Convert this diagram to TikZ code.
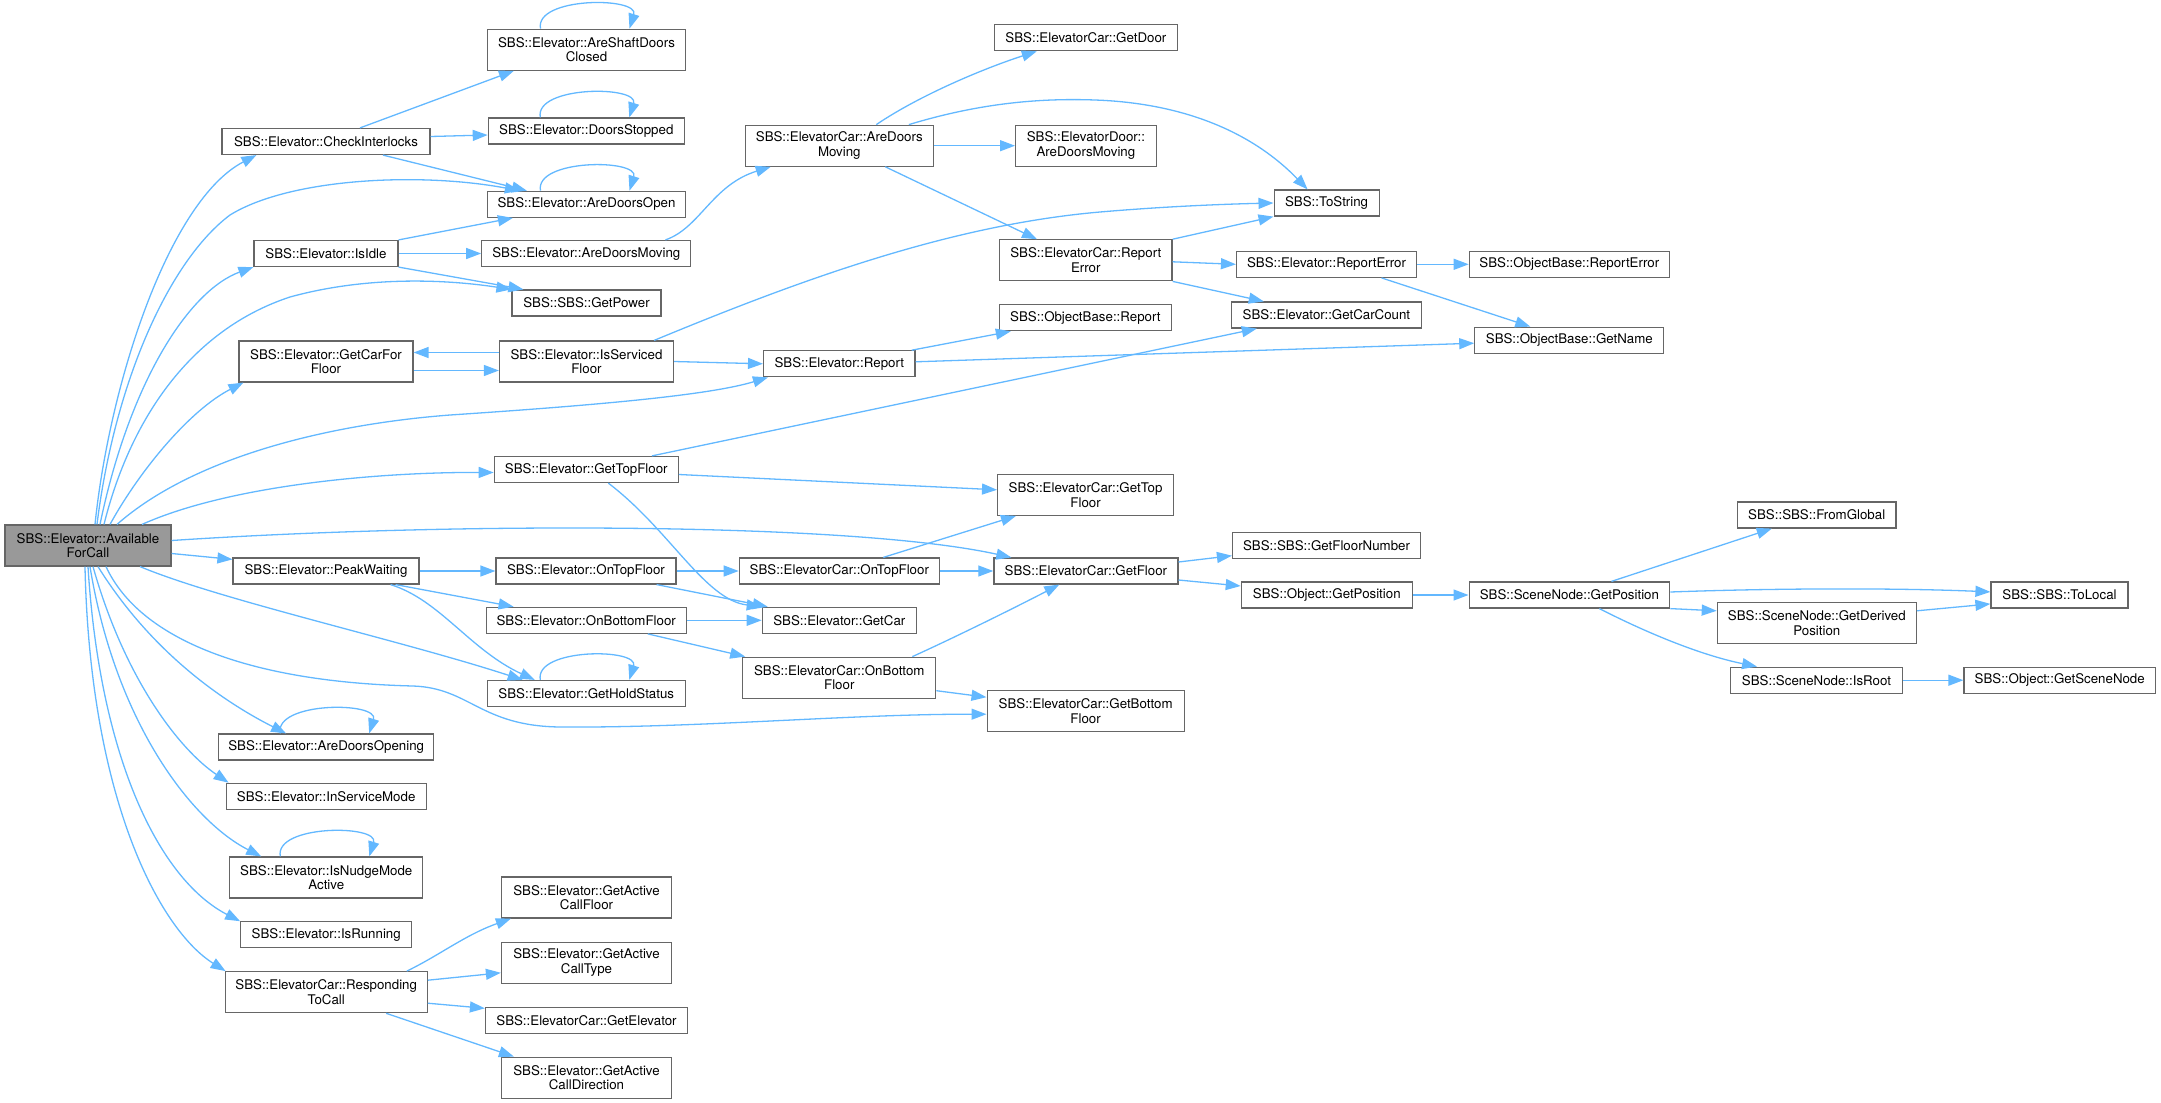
\documentclass[tikz,border=0pt]{standalone}
\usepackage{fontspec}
\setmainfont{TeX Gyre Heros}
\usetikzlibrary{arrows.meta,calc}
\definecolor{edgec}{HTML}{63B8FF}
\definecolor{boxc}{HTML}{666666}
\definecolor{mainfill}{HTML}{999999}
\begin{document}
\begin{tikzpicture}[x=1pt,y=-1pt,
  box/.style={draw=boxc, line width=1.2pt, fill=white, inner sep=0pt, align=center,
    font=\fontsize{13.3}{14.7}\selectfont},
  edg/.style={draw=edgec, line width=1.3pt, -{Triangle[length=15pt,width=11pt]}}]
\useasboundingbox (0,0) rectangle (2161,1103);
% ---- nodes
\node[box, fill=mainfill, minimum width=166pt, minimum height=41pt] (A) at (88,545.5) {SBS::Elevator::Available\\ForCall};
\node[box, minimum width=208pt, minimum height=26pt] (CI) at (326,141.5) {SBS::Elevator::CheckInterlocks};
\node[box, minimum width=198pt, minimum height=41pt] (ASDC) at (586.5,49.7) {SBS::Elevator::AreShaftDoors\\Closed};
\node[box, minimum width=196pt, minimum height=26pt] (DS) at (586.3,131) {SBS::Elevator::DoorsStopped};
\node[box, minimum width=198pt, minimum height=26pt] (ADO) at (586.5,204.3) {SBS::Elevator::AreDoorsOpen};
\node[box, minimum width=144pt, minimum height=26pt] (II) at (326,253.5) {SBS::Elevator::IsIdle};
\node[box, minimum width=209pt, minimum height=26pt] (ADM) at (586.3,253.5) {SBS::Elevator::AreDoorsMoving};
\node[box, minimum width=149pt, minimum height=26pt] (GP) at (586.5,303) {SBS::SBS::GetPower};
\node[box, minimum width=174pt, minimum height=41pt] (GCFF) at (326,361.5) {SBS::Elevator::GetCarFor\\Floor};
\node[box, minimum width=174pt, minimum height=41pt] (ISF) at (586.5,361.5) {SBS::Elevator::IsServiced\\Floor};
\node[box, minimum width=184pt, minimum height=26pt] (GTF) at (586.3,469.5) {SBS::Elevator::GetTopFloor};
\node[box, minimum width=186pt, minimum height=26pt] (PW) at (326,571) {SBS::Elevator::PeakWaiting};
\node[box, minimum width=180pt, minimum height=26pt] (OTF) at (586,571) {SBS::Elevator::OnTopFloor};
\node[box, minimum width=200pt, minimum height=26pt] (OBF) at (586.2,620.3) {SBS::Elevator::OnBottomFloor};
\node[box, minimum width=198pt, minimum height=26pt] (GHS) at (586.3,693.5) {SBS::Elevator::GetHoldStatus};
\node[box, minimum width=215pt, minimum height=26pt] (ADOp) at (326.2,747) {SBS::Elevator::AreDoorsOpening};
\node[box, minimum width=200pt, minimum height=26pt] (ISM) at (326.2,796.3) {SBS::Elevator::InServiceMode};
\node[box, minimum width=193pt, minimum height=41pt] (INMA) at (326.3,877.5) {SBS::Elevator::IsNudgeMode\\Active};
\node[box, minimum width=171pt, minimum height=26pt] (IRn) at (326.2,934.8) {SBS::Elevator::IsRunning};
\node[box, minimum width=202pt, minimum height=41pt] (RTC) at (326.2,992.2) {SBS::ElevatorCar::Responding\\ToCall};
\node[box, minimum width=170pt, minimum height=41pt] (GACF) at (586.5,897.5) {SBS::Elevator::GetActive\\CallFloor};
\node[box, minimum width=170pt, minimum height=41pt] (GACT) at (586.5,962.8) {SBS::Elevator::GetActive\\CallType};
\node[box, minimum width=202pt, minimum height=26pt] (GE) at (586.5,1020.3) {SBS::ElevatorCar::GetElevator};
\node[box, minimum width=170pt, minimum height=41pt] (GACD) at (586.5,1077.7) {SBS::Elevator::GetActive\\CallDirection};
\node[box, minimum width=188pt, minimum height=41pt] (ECADM) at (839.3,145.7) {SBS::ElevatorCar::AreDoors\\Moving};
\node[box, minimum width=151.5pt, minimum height=26pt] (ER) at (839.3,363.8) {SBS::Elevator::Report};
\node[box, minimum width=200pt, minimum height=26pt] (ECOTF) at (839.3,571) {SBS::ElevatorCar::OnTopFloor};
\node[box, minimum width=154pt, minimum height=26pt] (EGC) at (839.3,620.3) {SBS::Elevator::GetCar};
\node[box, minimum width=193pt, minimum height=41pt] (ECOBF) at (839.3,677.7) {SBS::ElevatorCar::OnBottom\\Floor};
\node[box, minimum width=183pt, minimum height=26pt] (GD) at (1085.9,37.7) {SBS::ElevatorCar::GetDoor};
\node[box, minimum width=140.5pt, minimum height=41pt] (EDADM) at (1085.9,145.7) {SBS::ElevatorDoor::\\AreDoorsMoving};
\node[box, minimum width=172.5pt, minimum height=41pt] (ECRE) at (1085.8,260.3) {SBS::ElevatorCar::Report\\Error};
\node[box, minimum width=172pt, minimum height=26pt] (OBR) at (1085.4,317.7) {SBS::ObjectBase::Report};
\node[box, minimum width=176pt, minimum height=41pt] (ECGTF) at (1085.6,494.8) {SBS::ElevatorCar::GetTop\\Floor};
\node[box, minimum width=184pt, minimum height=26pt] (ECGF) at (1085.9,571) {SBS::ElevatorCar::GetFloor};
\node[box, minimum width=197pt, minimum height=41pt] (ECGBF) at (1085.6,711.2) {SBS::ElevatorCar::GetBottom\\Floor};
\node[box, minimum width=105pt, minimum height=26pt] (TS) at (1326.6,203) {SBS::ToString};
\node[box, minimum width=180pt, minimum height=26pt] (EREr) at (1326.5,264.3) {SBS::Elevator::ReportError};
\node[box, minimum width=190pt, minimum height=26pt] (GCC) at (1326.4,315) {SBS::Elevator::GetCarCount};
\node[box, minimum width=188pt, minimum height=26pt] (GFN) at (1326.5,545.7) {SBS::SBS::GetFloorNumber};
\node[box, minimum width=171pt, minimum height=26pt] (OGP) at (1326.8,595) {SBS::Object::GetPosition};
\node[box, minimum width=200pt, minimum height=26pt] (OBRE) at (1569.3,264.3) {SBS::ObjectBase::ReportError};
\node[box, minimum width=189pt, minimum height=26pt] (GN) at (1569.3,340.2) {SBS::ObjectBase::GetName};
\node[box, minimum width=200.6pt, minimum height=26pt] (SNGP) at (1569.4,595) {SBS::SceneNode::GetPosition};
\node[box, minimum width=158.6pt, minimum height=26pt] (FG) at (1816.7,515) {SBS::SBS::FromGlobal};
\node[box, minimum width=199pt, minimum height=41pt] (GDP) at (1816.8,622.8) {SBS::SceneNode::GetDerived\\Position};
\node[box, minimum width=171.7pt, minimum height=26pt] (IRt) at (1816.5,680.2) {SBS::SceneNode::IsRoot};
\node[box, minimum width=137pt, minimum height=26pt] (TL) at (2059.5,594.9) {SBS::SBS::ToLocal};
\node[box, minimum width=191.4pt, minimum height=26pt] (GSN) at (2059.7,680.2) {SBS::Object::GetSceneNode};
% ---- edges from AvailableForCall
\draw[edg] ($(A.north)+(7,0)$) .. controls (110,380) and (170,200) .. ($(CI.south west)+(35,0)$);
\draw[edg] ($(A.north)+(9,0)$) .. controls (115,380) and (170,260) .. (230,215) .. controls (290,178) and (420,172) .. ($(ADO.north west)+(33,0)$);
\draw[edg] ($(A.north)+(12,0)$) .. controls (130,380) and (190,290) .. (II.south west);
\draw[edg] ($(A.north)+(16,0)$) .. controls (130,420) and (190,330) .. (290,297) .. controls (370,275) and (450,280) .. (GP.north west);
\draw[edg] ($(A.north)+(22,0)$) .. controls (140,470) and (190,410) .. ($(GCFF.south west)+(5,0)$);
\draw[edg] ($(A.north)+(29,0)$) .. controls (190,460) and (320,425) .. (450,415) .. controls (600,405) and (710,395) .. ($(ER.south west)+(5,0)$);
\draw[edg] ($(A.north)+(54,0)$) .. controls (230,485) and (380,472) .. ($(GTF.west)+(0,3)$);
\draw[edg] ($(A.east)+(0,-5)$) .. controls (450,522) and (850,522) .. ($(ECGF.north west)+(18,0)$);
\draw[edg] ($(A.east)+(0,8)$) -- ($(PW.north west)+(0,2)$);
\draw[edg] ($(A.south)+(52,0)$) .. controls (220,600) and (400,640) .. ($(GHS.north west)+(36,0)$);
\draw[edg] ($(A.south)+(18,0)$) .. controls (140,640) and (250,682) .. (413,686) .. controls (470,688) and (480,726) .. (560,727) .. controls (700,728) and (850,714) .. ($(ECGBF.west)+(0,3)$);
\draw[edg] ($(A.south)+(10,0)$) .. controls (150,650) and (220,700) .. ($(ADOp.north west)+(68,0)$);
\draw[edg] ($(A.south)+(5,0)$) .. controls (125,680) and (180,750) .. ($(ISM.north west)+(3,0)$);
\draw[edg] ($(A.south)+(2,0)$) .. controls (115,720) and (190,820) .. ($(INMA.north west)+(32,0)$);
\draw[edg] (A.south) .. controls (100,760) and (160,880) .. (IRn.north west);
\draw[edg] ($(A.south)+(-3,0)$) .. controls (90,800) and (160,930) .. ($(RTC.north west)+(1,0)$);
% ---- second column
\draw[edg] ($(CI.north)+(34,0)$) -- ($(ASDC.south west)+(27,0)$);
\draw[edg] ($(CI.east)+(0,-5)$) -- ($(DS.west)+(0,4)$);
\draw[edg] ($(CI.south)+(57,0)$) -- ($(ADO.north west)+(40,0)$);
\draw[edg] (II.north east) -- ($(ADO.south west)+(26,0)$);
\draw[edg] (II.east) -- (ADM.west);
\draw[edg] (II.south east) -- ($(GP.north west)+(12,0)$);
\draw[edg] ($(ISF.west)+(0,-9)$) -- ($(GCFF.east)+(0,-9)$);
\draw[edg] ($(GCFF.east)+(0,9)$) -- ($(ISF.west)+(0,9)$);
\draw[edg] (PW.east) -- (OTF.west);
\draw[edg] ($(PW.south east)+(-24,0)$) -- ($(OBF.north west)+(28,0)$);
\draw[edg] ($(PW.south east)+(-29,0)$) .. controls (440,600) and (470,650) .. ($(GHS.north west)+(48,0)$);
\draw[edg] ($(RTC.north east)+(-21,0)$) .. controls (440,955) and (465,935) .. ($(GACF.south west)+(10,0)$);
\draw[edg] ($(RTC.east)+(0,-12)$) -- ($(GACT.west)+(0,10)$);
\draw[edg] ($(RTC.east)+(0,11)$) -- ($(GE.west)+(0,-12)$);
\draw[edg] ($(RTC.south)+(60,0)$) -- ($(GACD.north west)+(13,0)$);
% ---- third column
\draw[edg] ($(ADM.north east)+(-26,0)$) .. controls (700,228) and (712,185) .. ($(ECADM.south west)+(26,0)$);
\draw[edg] ($(ISF.north east)+(-20,0)$) .. controls (800,280) and (950,225) .. (1100,212) .. controls (1170,206) and (1230,204) .. (TS.west);
\draw[edg] (ISF.east) -- (ER.west);
\draw[edg] ($(GTF.north east)+(-27,0)$) -- ($(GCC.south west)+(26,0)$);
\draw[edg] ($(GTF.east)+(0,5)$) -- ($(ECGTF.west)+(0,-5)$);
\draw[edg] ($(GTF.south)+(22,0)$) .. controls (670,530) and (705,600) .. (EGC.north west);
\draw[edg] (OTF.east) -- (ECOTF.west);
\draw[edg] ($(OTF.south east)+(-20,0)$) -- ($(EGC.north west)+(6,0)$);
\draw[edg] (OBF.east) -- (EGC.west);
\draw[edg] ($(OBF.south east)+(-39,0)$) -- ($(ECOBF.north west)+(3,0)$);
% ---- fourth column
\draw[edg] ($(ECADM.north)+(37,0)$) .. controls (920,95) and (985,68) .. ($(GD.south west)+(43,0)$);
\draw[edg] ($(ECADM.north east)+(-25,0)$) .. controls (980,103) and (1040,98) .. (1095,100) .. controls (1180,103) and (1250,130) .. ($(TS.north)+(-19,0)$);
\draw[edg] (ECADM.east) -- (EDADM.west);
\draw[edg] ($(ECADM.south)+(46,0)$) -- ($(ECRE.north west)+(38,0)$);
\draw[edg] ($(ER.north east)+(-4,0)$) -- ($(OBR.south west)+(12,0)$);
\draw[edg] ($(ER.east)+(0,-2)$) -- ($(GN.west)+(0,3)$);
\draw[edg] ($(ECOTF.north)+(44,0)$) -- ($(ECGTF.south west)+(19,0)$);
\draw[edg] (ECOTF.east) -- (ECGF.west);
\draw[edg] ($(ECOBF.north east)+(-24,0)$) .. controls (960,635) and (1020,605) .. ($(ECGF.south west)+(66,0)$);
\draw[edg] ($(ECOBF.east)+(0,13)$) -- ($(ECGBF.west)+(0,-14)$);
% ---- right part
\draw[edg] (ECRE.north east) -- (TS.south west);
\draw[edg] ($(ECRE.east)+(0,1.5)$) -- (EREr.west);
\draw[edg] (ECRE.south east) -- ($(GCC.north west)+(33,0)$);
\draw[edg] (EREr.east) -- (OBRE.west);
\draw[edg] ($(EREr.south)+(55,0)$) -- ($(GN.north)+(-39,0)$);
\draw[edg] ($(ECGF.east)+(0,-9)$) -- ($(GFN.west)+(0,10)$);
\draw[edg] ($(ECGF.east)+(0,9)$) -- ($(OGP.west)+(0,-9)$);
\draw[edg] (OGP.east) -- (SNGP.west);
\draw[edg] ($(SNGP.north)+(42,0)$) -- ($(FG.south west)+(35,0)$);
\draw[edg] ($(SNGP.east)+(0,-3)$) .. controls (1780,588) and (1900,588) .. ($(TL.west)+(0,-3)$);
\draw[edg] (SNGP.south east) -- ($(GDP.west)+(0,-12)$);
\draw[edg] ($(SNGP.south)+(30,0)$) .. controls (1645,632) and (1700,655) .. ($(IRt.north west)+(27,0)$);
\draw[edg] ($(GDP.east)+(0,-12)$) -- ($(TL.west)+(0,9)$);
\draw[edg] (IRt.east) -- (GSN.west);
% ---- self loops
\foreach \n in {ASDC,DS,ADO,GHS,ADOp,INMA}{
  \draw[edg] ($(\n.north)+(-46,0)$) .. controls +(-6,-32) and +(10,-32) .. ($(\n.north)+(43,0)$);
}
\end{tikzpicture}
\end{document}
